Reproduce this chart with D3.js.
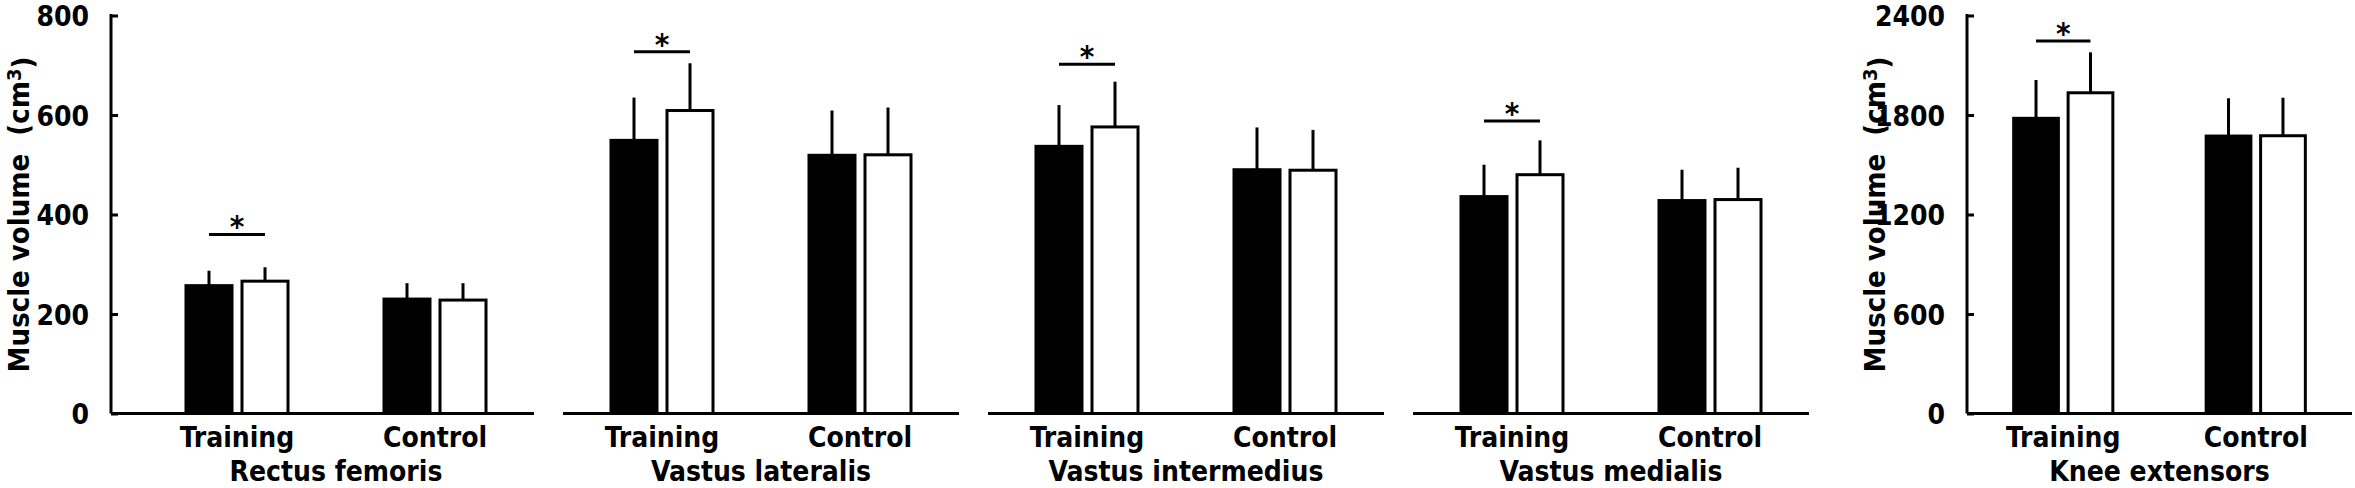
<!DOCTYPE html>
<html>
<head>
<script src="https://cdn.jsdelivr.net/npm/d3@7"></script>
<style type="text/css">
  body{
    margin: 0;
    background: white;
  }
  svg text{
    font-family: "Liberation Sans Narrow", "Arial Narrow", "DejaVu Sans Condensed", "DejaVu Sans", sans-serif;
    font-stretch: condensed;
    font-weight: bold;
    fill: black;
  }
</style>
</head>
<body>
<svg id="chart" width="2355" height="488"></svg>
<script>

// data (black = pre, white = post)
var muscles = ["Rectus femoris", "Vastus lateralis", "Vastus intermedius", "Vastus medialis", "Knee extensors"];
var groups = ["Training", "Control"];
var phases = ["pre", "post"];

var preMean  = [[257, 230], [549, 519], [537, 490], [436, 428], [1780, 1673]];
var preSD    = [[30, 32],   [86, 90],   [83, 85],   [64, 62],   [231, 228]];
var postMean = [[266, 228], [609, 520], [576, 489], [480, 430], [1934, 1675]];
var postSD   = [[28, 34],   [95, 95],   [91, 81],   [69, 64],   [244, 229]];

// height of the "*" bracket over Training
var sigLevel = [360, 727, 702, 588, 2246];

var smallTicks = [0, 200, 400, 600, 800];
var bigTicks = [0, 600, 1200, 1800, 2400];

var svg = d3.select("#chart");

var plotTop = 15.5, plotBottom = 413.5;

var ySmall = d3.scaleLinear().domain([0, 800]).range([plotBottom, plotTop]);
var yBig = d3.scaleLinear().domain([0, 2400]).range([plotBottom, plotTop]);

// panel extents along x
var panels = [
  {x0: 138, x1: 534, y: ySmall, axisX: 111, ticks: smallTicks},
  {x0: 563, x1: 959, y: ySmall},
  {x0: 988, x1: 1384, y: ySmall},
  {x0: 1413, x1: 1809, y: ySmall},
  {x0: 1967, x1: 2352, y: yBig, axisX: 1967, ticks: bigTicks}
];

panels.forEach(function(p, m) {

  var g = svg.append("g");
  var y = p.y;

  var x = d3.scaleBand().domain(groups).range([p.x0, p.x1]);
  var half = x.bandwidth() * 0.2576;
  var sub = d3.scaleBand().domain(phases).range([-half, half]).paddingInner(0.1786);

  // baseline
  g.append("line")
    .attr("x1", p.axisX !== undefined ? p.axisX : p.x0)
    .attr("x2", p.x1)
    .attr("y1", y(0)).attr("y2", y(0))
    .attr("stroke", "black").attr("stroke-width", 3);

  // y axis
  if (p.axisX !== undefined) {
    var axis = d3.axisLeft(y).tickValues(p.ticks).tickSize(-7).tickPadding(22).tickFormat(d3.format("d"));
    var ag = g.append("g")
      .attr("transform", "translate(" + p.axisX + ",0)")
      .call(axis);
    ag.select(".domain").remove();
    ag.selectAll(".tick line").attr("stroke", "black").attr("stroke-width", 3);
    ag.selectAll(".tick text")
      .attr("font-family", null)
      .attr("font-size", null)
      .style("font-size", "28px")
      .attr("dy", "0.36em");
    ag.append("line")
      .attr("x1", 0).attr("x2", 0)
      .attr("y1", y.range()[1] - 1.5).attr("y2", y(0))
      .attr("stroke", "black").attr("stroke-width", 3);

    var lab = g.append("text")
      .attr("transform", "translate(" + (p.axisX - 82) + "," + ((plotTop + plotBottom) / 2) + ") rotate(-90)")
      .attr("text-anchor", "middle")
      .style("font-size", "29px")
      .style("white-space", "pre");
    lab.append("tspan").text("Muscle volume  (cm");
    lab.append("tspan").attr("dy", "-0.4em").style("font-size", "20px").text("3");
    lab.append("tspan").attr("dy", "0.4em").text(")");
  }

  var rows = groups.map(function(grp, i) {
    return [
      {grp: grp, phase: "pre", mean: preMean[m][i], sd: preSD[m][i]},
      {grp: grp, phase: "post", mean: postMean[m][i], sd: postSD[m][i]}
    ];
  });
  var bars = [].concat.apply([], rows);

  function cx(d) {
    return x(d.grp) + x.bandwidth() / 2 + sub(d.phase) + sub.bandwidth() / 2;
  }

  // error bars (upward only)
  g.selectAll(".err")
    .data(bars)
    .enter()
    .append("line")
    .attr("x1", cx).attr("x2", cx)
    .attr("y1", function(d) { return y(d.mean); })
    .attr("y2", function(d) { return y(d.mean + d.sd); })
    .attr("stroke", "black").attr("stroke-width", 3);

  g.selectAll(".bar")
    .data(bars)
    .enter()
    .append("rect")
    .attr("x", function(d) { return x(d.grp) + x.bandwidth() / 2 + sub(d.phase); })
    .attr("width", sub.bandwidth())
    .attr("y", function(d) { return y(d.mean); })
    .attr("height", function(d) { return y(0) - y(d.mean); })
    .attr("fill", function(d) { return d.phase == "pre" ? "black" : "white"; })
    .attr("stroke", "black")
    .attr("stroke-width", 3);

  // significance bracket
  var tr = bars.filter(function(d) { return d.grp == "Training"; });
  g.append("line")
    .attr("x1", cx(tr[0])).attr("x2", cx(tr[1]))
    .attr("y1", y(sigLevel[m])).attr("y2", y(sigLevel[m]))
    .attr("stroke", "black").attr("stroke-width", 3);
  g.append("text")
    .attr("x", x("Training") + x.bandwidth() / 2)
    .attr("y", y(sigLevel[m]) + 3)
    .attr("text-anchor", "middle")
    .style("font-size", "31px")
    .text("*");

  // group labels
  g.selectAll(".grp")
    .data(groups)
    .enter()
    .append("text")
    .attr("x", function(d) { return x(d) + x.bandwidth() / 2; })
    .attr("y", 447)
    .attr("text-anchor", "middle")
    .style("font-size", "28px")
    .text(function(d) { return d; });

  g.append("text")
    .attr("x", (p.x0 + p.x1) / 2)
    .attr("y", 481)
    .attr("text-anchor", "middle")
    .style("font-size", "28px")
    .text(muscles[m]);
});

</script>
</body>
</html>
